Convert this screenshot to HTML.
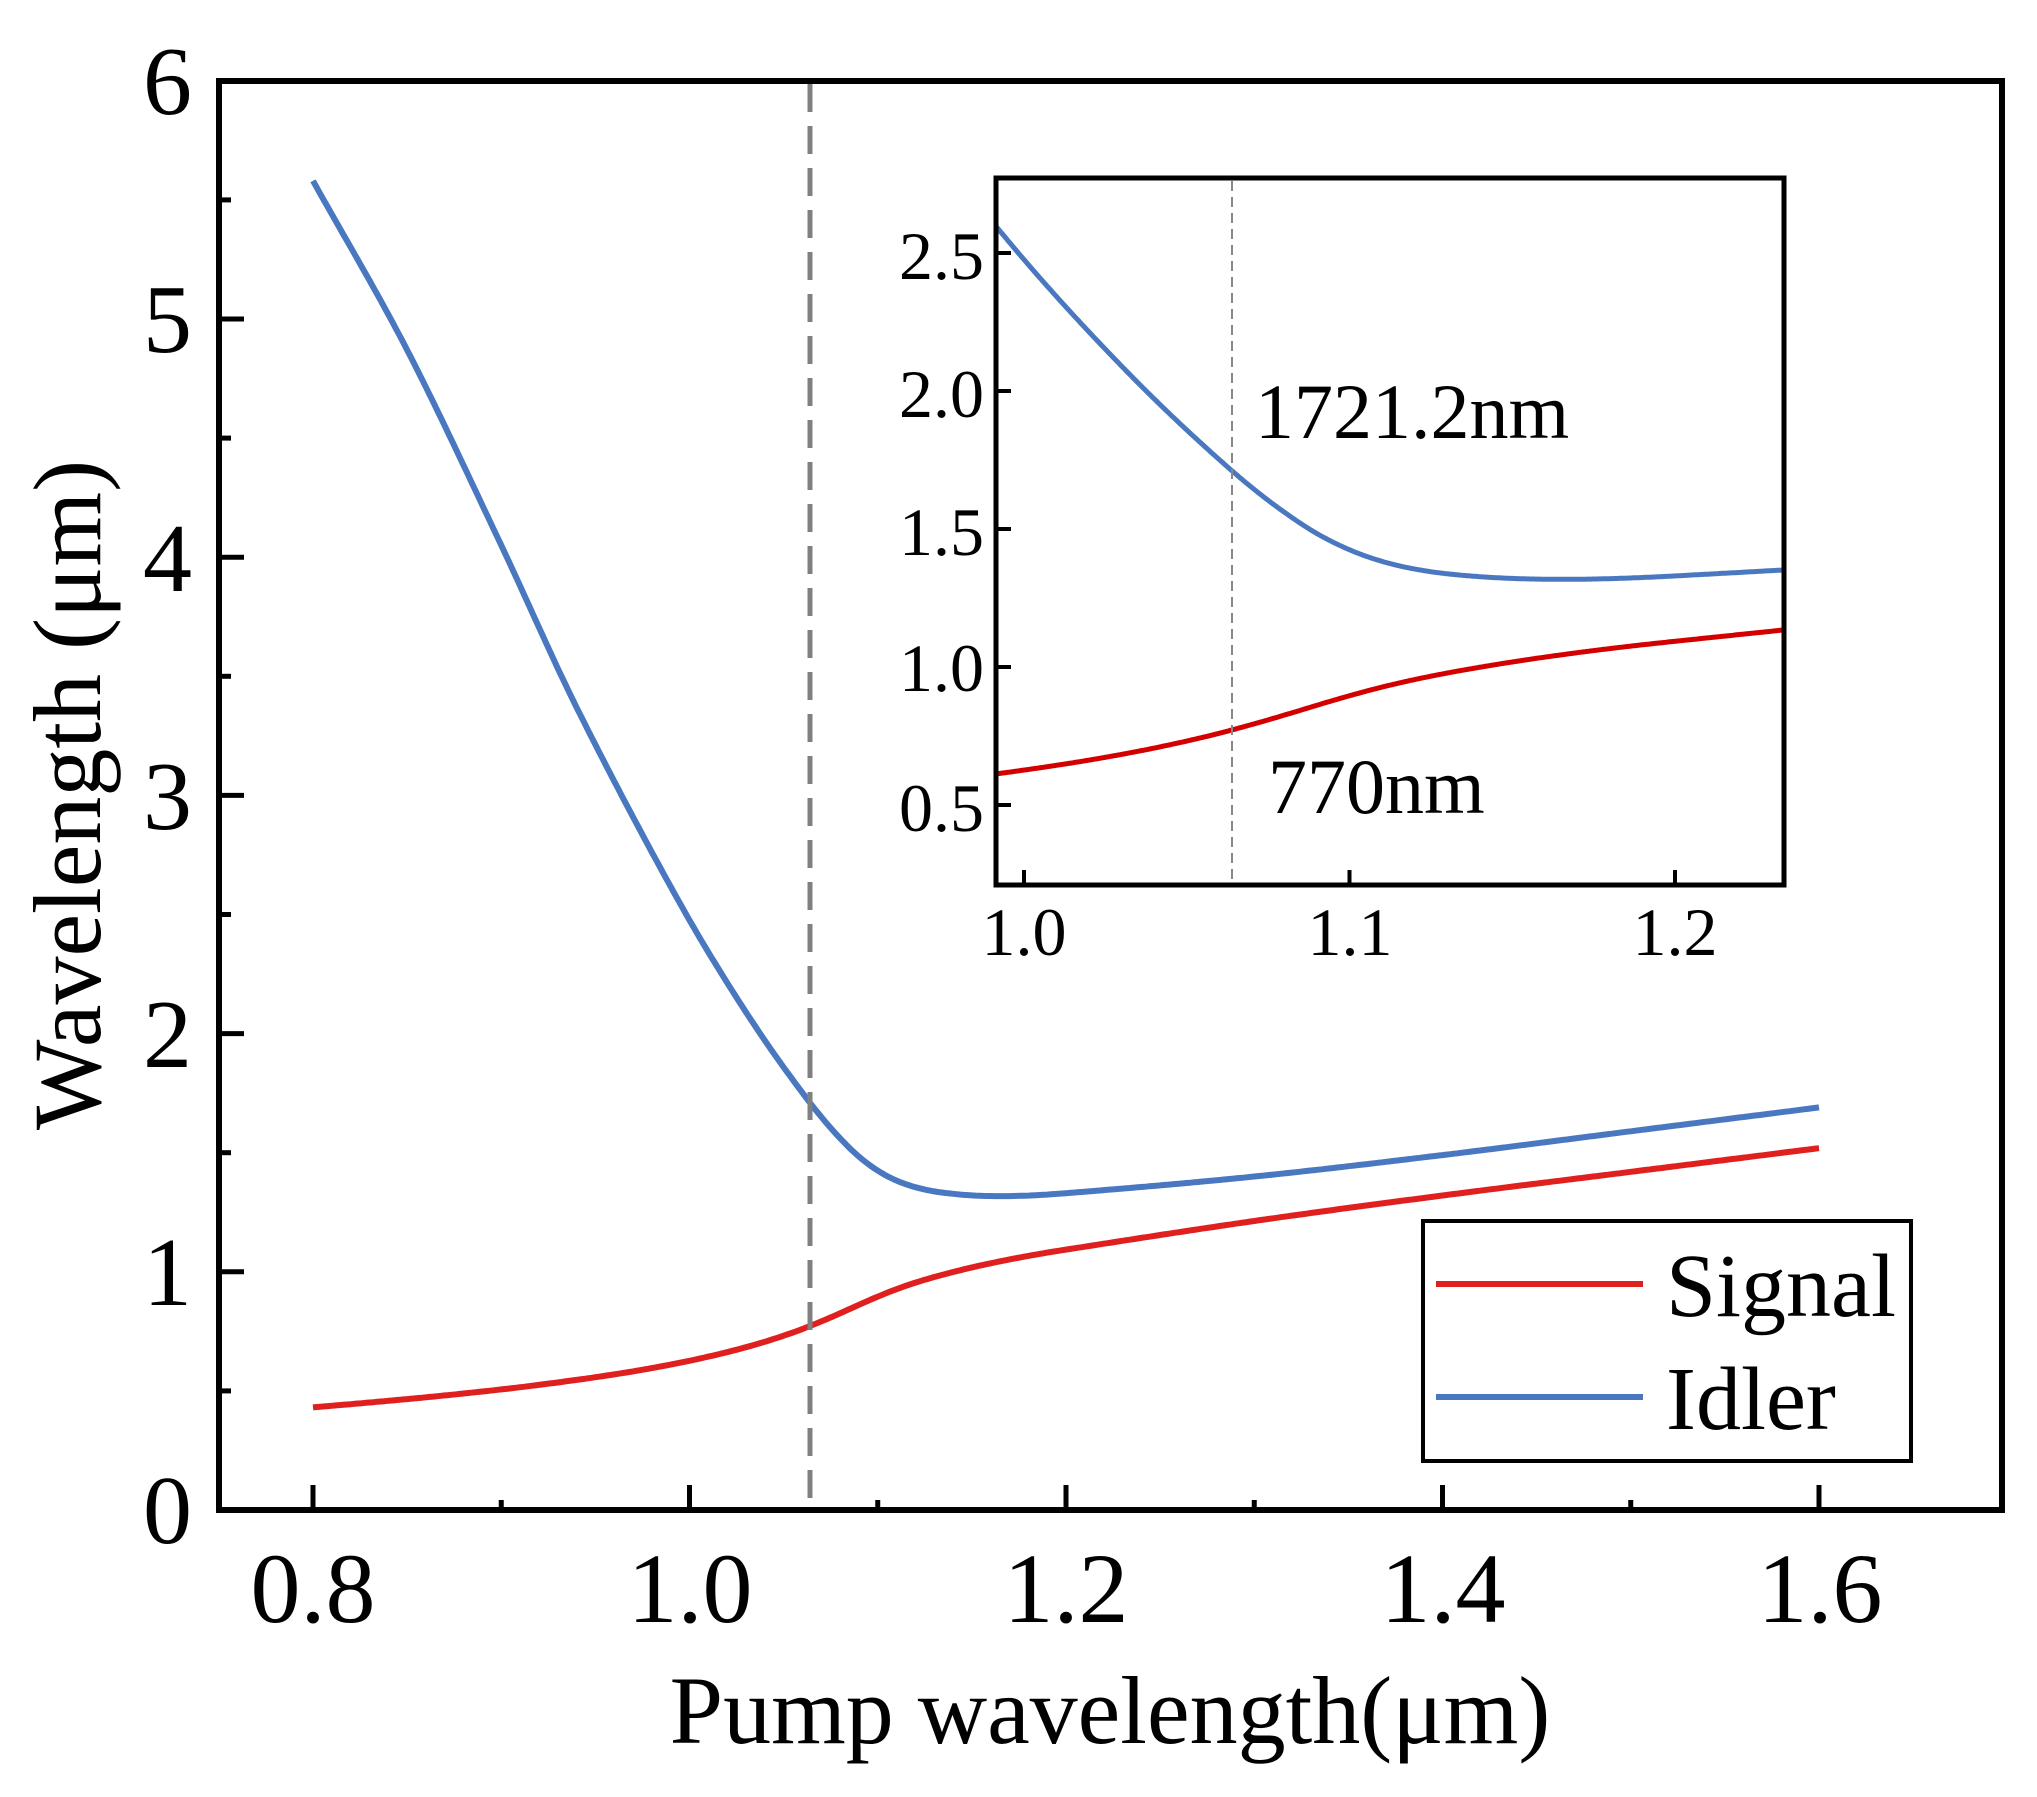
<!DOCTYPE html>
<html><head><meta charset="utf-8"><style>
html,body{margin:0;padding:0;background:#fff}
svg{display:block}
text{font-family:"Liberation Serif",serif;fill:#000}
</style></head><body>
<svg id="s" width="2037" height="1797" viewBox="0 0 2037 1797" xmlns="http://www.w3.org/2000/svg">
<rect width="2037" height="1797" fill="#fff"/>
<g id="main"></g>
<rect x="219" y="81" width="1783" height="1429" fill="none" stroke="#000" stroke-width="6"/>
<line x1="810" y1="84" x2="810" y2="1507" stroke="#808080" stroke-width="5" stroke-dasharray="28,14"/>
<g font-size="100" text-anchor="middle">
<text x="313" y="1622">0.8</text><text x="690" y="1622">1.0</text><text x="1066" y="1622">1.2</text><text x="1443" y="1622">1.4</text><text x="1820" y="1622">1.6</text>
</g>
<g font-size="98" text-anchor="end">
<text x="192" y="1543">0</text><text x="192" y="1305">1</text><text x="192" y="1067">2</text><text x="192" y="829">3</text><text x="192" y="591">4</text><text x="192" y="352">5</text><text x="192" y="114">6</text>
</g>
<text x="1110" y="1743" font-size="96" text-anchor="middle">Pump wavelength(μm)</text>
<text transform="translate(100,795) rotate(-90)" font-size="96" text-anchor="middle">Wavelength (μm)</text>
<!-- inset -->
<rect x="996" y="178" width="788" height="707" fill="#fff"/>
<g id="inset"></g>
<line x1="1232" y1="181" x2="1232" y2="882" stroke="#888" stroke-width="2" stroke-dasharray="10,6"/>
<rect x="996" y="178" width="788" height="707" fill="none" stroke="#000" stroke-width="5"/>
<g font-size="68" text-anchor="middle">
<text x="1024" y="955">1.0</text><text x="1350" y="955">1.1</text><text x="1675" y="955">1.2</text>
</g>
<g font-size="68" text-anchor="end">
<text x="984" y="279">2.5</text><text x="984" y="417">2.0</text><text x="984" y="555">1.5</text><text x="984" y="691">1.0</text><text x="984" y="831">0.5</text>
</g>
<text x="1255" y="438" font-size="78">1721.2nm</text>
<text x="1268" y="813" font-size="78">770nm</text>
<!-- legend -->
<rect x="1423" y="1221" width="488" height="240" fill="#fff" stroke="#000" stroke-width="4"/>
<line x1="1436" y1="1284" x2="1643" y2="1284" stroke="#e0201f" stroke-width="6"/>
<line x1="1436" y1="1397" x2="1643" y2="1397" stroke="#4a78c0" stroke-width="6"/>
<text x="1666" y="1316" font-size="90">Signal</text>
<text x="1666" y="1429" font-size="90">Idler</text>
</svg>
<script>
var P=[[0.8,5.58],[0.85,4.87],[0.9,4.05],[0.94,3.37],[0.994,2.56],[1.03,2.09],[1.063,1.72],[1.085,1.52],[1.102,1.415],[1.12,1.355],[1.143,1.325],[1.17,1.318],[1.2,1.33],[1.3,1.40],[1.4,1.49],[1.5,1.59],[1.6,1.69]];
function idl(p){for(var i=0;i<P.length-1;i++){if(p<=P[i+1][0]){var a=P[Math.max(i-1,0)],b=P[i],c=P[i+1],d=P[Math.min(i+2,P.length-1)];var t=(p-b[0])/(c[0]-b[0]);
var m1=(c[1]-a[1])/(c[0]-a[0])*(c[0]-b[0]),m2=(d[1]-b[1])/(d[0]-b[0])*(c[0]-b[0]);var t2=t*t,t3=t2*t;
return (2*t3-3*t2+1)*b[1]+(t3-2*t2+t)*m1+(-2*t3+3*t2)*c[1]+(t3-t2)*m2;}}return P[P.length-1][1];}
function sig(p){return 1/(2/p-1/idl(p));}
function path(f,x0,x1,X,Y){var s="";for(var i=0;i<=400;i++){var p=x0+(x1-x0)*i/400;s+=(i?"L":"M")+X(p).toFixed(1)+","+Y(f(p)).toFixed(1);}return s;}
var NS="http://www.w3.org/2000/svg";
function add(g,d,c,w){var e=document.createElementNS(NS,"path");e.setAttribute("d",d);e.setAttribute("fill","none");e.setAttribute("stroke",c);e.setAttribute("stroke-width",w);e.setAttribute("stroke-linejoin","round");document.getElementById(g).appendChild(e);}
function addL(g,x1,y1,x2,y2,w){var e=document.createElementNS(NS,"line");e.setAttribute("x1",x1);e.setAttribute("y1",y1);e.setAttribute("x2",x2);e.setAttribute("y2",y2);e.setAttribute("stroke","#000");e.setAttribute("stroke-width",w);document.getElementById(g).appendChild(e);}
var MX=function(p){return 313+(p-0.8)*1882.5;},MY=function(v){return 1510-v*238.2;};
add("main",path(sig,0.8,1.6,MX,MY),"#e0201f",6);
add("main",path(idl,0.8,1.6,MX,MY),"#4a78c0",6);
for(var k=0;k<=8;k++){var x=MX(0.8+k*0.1);addL("main",x,1510,x,1510-(k%2?10:25),5);}
for(var k=1;k<12;k++){var y=MY(k*0.5);addL("main",219,y,219+(k%2?12:25),y,5);}
var IX=function(p){return 1024+(p-1.0)*3255;},IY=function(v){return 667-(v-1)*276;};
add("inset",path(sig,0.9914,1.2335,IX,IY),"#d40000",5);
add("inset",path(idl,0.9914,1.2335,IX,IY),"#4a78c0",5);
[1.0,1.1,1.2].forEach(function(p){addL("inset",IX(p),885,IX(p),870,4);});
[0.5,1.0,1.5,2.0,2.5].forEach(function(v){addL("inset",996,IY(v),1011,IY(v),4);});
</script>
</body></html>
